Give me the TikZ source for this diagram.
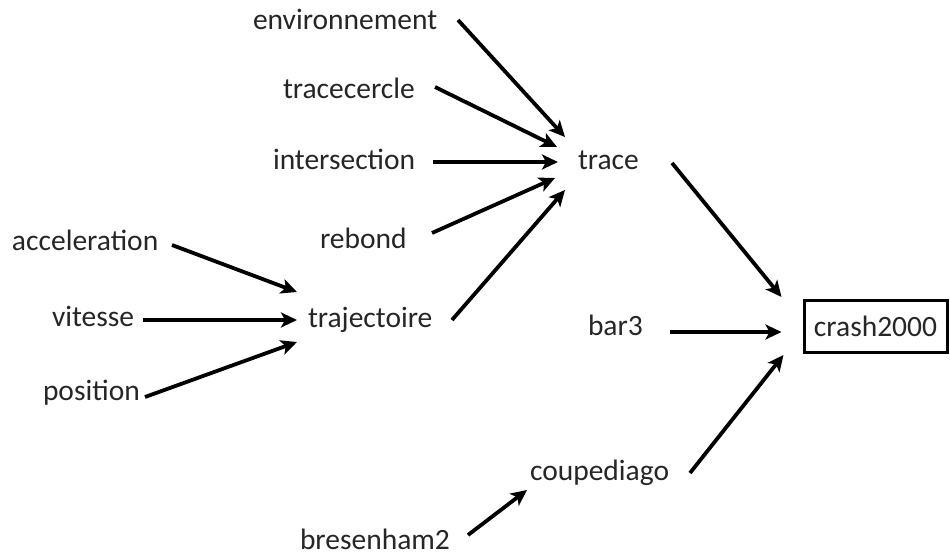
\documentclass[tikz,border=0pt]{standalone}
\usepackage{fontspec}
\setmainfont{Carlito}
\usetikzlibrary{arrows.meta}
\begin{document}
\begin{tikzpicture}[x=1pt,y=-1pt,
  lbl/.style={anchor=base west,inner sep=0pt,outer sep=0pt,text=black!85,font=\fontsize{29.5}{34}\selectfont},
  arr/.style={line width=3.8pt,-{Stealth[length=16pt,width=15pt,inset=4pt]}}]
\useasboundingbox (0,0) rectangle (950,556);
\fill[white] (0,0) rectangle (950,556);
% nodes
\node[lbl] (env) at (253,30) {environnement};
\node[lbl] (tcer) at (283,99) {tracecercle};
\node[lbl] (inter) at (273,170) {intersection};
\node[lbl] (reb) at (320,248) {rebond};
\node[lbl] (trace) at (578,170) {trace};
\node[lbl] (acc) at (12,250) {acceleration};
\node[lbl] (vit) at (52,326) {vitesse};
\node[lbl] (pos) at (43,400) {position};
\node[lbl] (traj) at (308,327) {trajectoire};
\node[lbl] (bar) at (588,335) {bar3};
\node[lbl] (coupe) at (530,480) {coupediago};
\node[lbl] (bres) at (300,549) {bresenham2};
\node[draw,line width=3pt,minimum width=143pt,minimum height=52pt,inner sep=0pt,
      text=black!85,font=\fontsize{29.5}{34}\selectfont] (crash) at (875.5,326) {crash2000};
% connectors
\draw[arr] ([shift={(205,-10)}]env.base west) -- ([shift={(-13,-33)}]trace.base west);
\draw[arr] ([shift={(152,-12)}]tcer.base west) -- ([shift={(-21,-23)}]trace.base west);
\draw[arr] ([shift={(160,-8)}]inter.base west) -- ([shift={(-20,-8)}]trace.base west);
\draw[arr] ([shift={(112,-15)}]reb.base west) -- ([shift={(-23,8)}]trace.base west);
\draw[arr] ([shift={(144,-7)}]traj.base west) -- ([shift={(-13,20)}]trace.base west);
\draw[arr] ([shift={(160,-5)}]acc.base west) -- ([shift={(-11,-35)}]traj.base west);
\draw[arr] ([shift={(91,-6)}]vit.base west) -- ([shift={(-11,-7)}]traj.base west);
\draw[arr] ([shift={(102,-3)}]pos.base west) -- ([shift={(-11,15)}]traj.base west);
\draw[arr] ([shift={(94,-7)}]trace.base west) -- ([shift={(-21,-29)}]crash.west);
\draw[arr] ([shift={(82,-3)}]bar.base west) -- ([shift={(-21,6)}]crash.west);
\draw[arr] ([shift={(160,-7)}]coupe.base west) -- ([shift={(-19,29)}]crash.west);
\draw[arr] ([shift={(168,-14)}]bres.base west) -- ([shift={(-3,10)}]coupe.base west);
\end{tikzpicture}
\end{document}
